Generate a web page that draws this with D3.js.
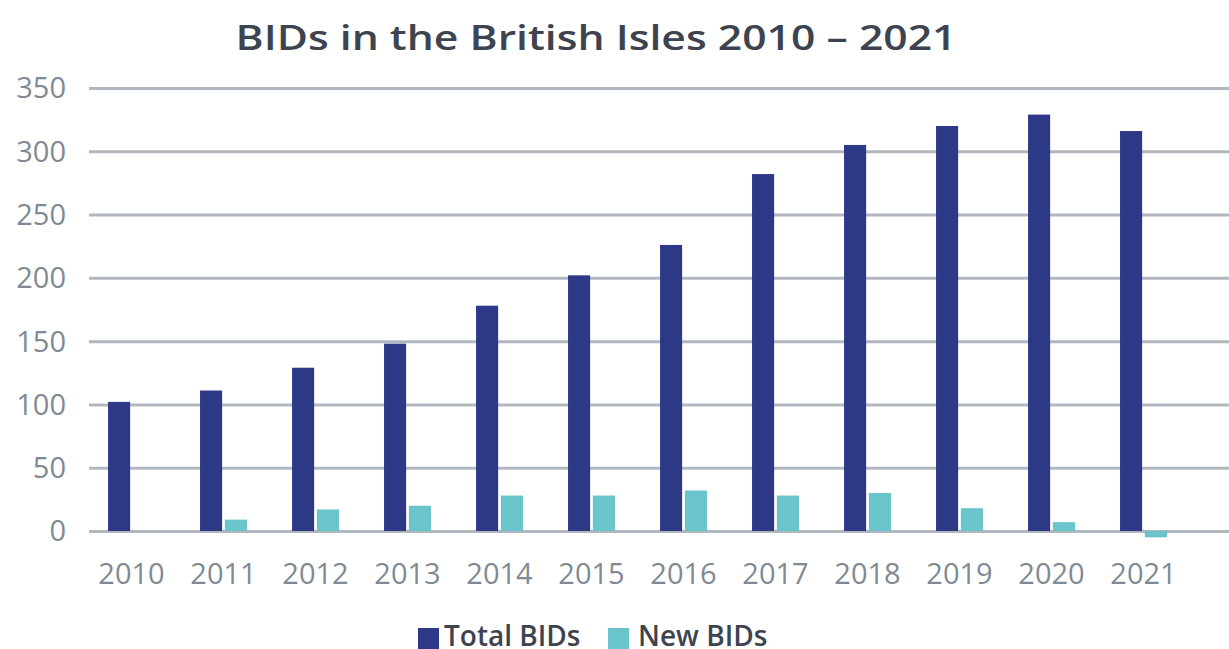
<!DOCTYPE html>
<html>
<head>
<meta charset="utf-8">
<script src="https://cdn.jsdelivr.net/npm/d3@7"></script>
<style>
  html, body { margin: 0; padding: 0; background: #ffffff; }
  svg { display: block; font-family: "Open Sans", "Noto Sans", sans-serif; }
</style>
</head>
<body>
<svg id="chart" width="1229" height="649"></svg>
<script>
// Business Improvement Districts per year
const years = ["2010", "2011", "2012", "2013", "2014", "2015", "2016", "2017", "2018", "2019", "2020", "2021"];
const totalBIDs = [102, 111, 129, 148, 178, 202, 226, 282, 305, 320, 329, 316];
const newBIDs = [0, 9, 17, 20, 28, 28, 32, 28, 30, 18, 7, -5];
const seriesNames = ["Total BIDs", "New BIDs"];
const seriesColors = ["#2d3987", "#69c4cb"];
const yTicks = [0, 50, 100, 150, 200, 250, 300, 350];
const title = "BIDs in the British Isles 2010 \u2013 2021";

const svg = d3.select("#chart");
const W = 1229;

const y = d3.scaleLinear().domain([0, 350]).range([531, 88]);
const x0 = d3.scaleBand().domain(years).range([85.5, 1189.5])
  .paddingInner(0.49).paddingOuter(0.245);
const x1 = d3.scaleBand().domain(seriesNames).range([0, x0.bandwidth()]).paddingInner(0.11);
const color = d3.scaleOrdinal().domain(seriesNames).range(seriesColors);

// Title
svg.append("text")
  .attr("x", 596).attr("y", 50)
  .attr("text-anchor", "middle")
  .attr("font-size", 35).attr("font-weight", 600)
  .attr("fill", "#3d4450")
  .attr("textLength", 721).attr("lengthAdjust", "spacingAndGlyphs")
  .text(title);

// Horizontal gridlines and value labels
const yAxis = d3.axisLeft(y).tickValues(yTicks).tickSize(-(W - 89)).tickPadding(23);
const gy = svg.append("g").attr("transform", "translate(89,0)").call(yAxis);
gy.select(".domain").remove();
gy.selectAll(".tick line").attr("stroke", "#b1b7bf").attr("stroke-width", 3);
gy.selectAll(".tick text")
  .attr("font-size", 29).attr("font-weight", 500).attr("fill", "#7f8a94")
  .attr("font-family", "'Open Sans', sans-serif")
  .attr("dy", "0.34em");

// Bars
const rows = years.map((yr, i) => ({ year: yr, values: [
  { key: seriesNames[0], value: totalBIDs[i] },
  { key: seriesNames[1], value: newBIDs[i] }
]}));

svg.append("g").selectAll("g")
  .data(rows).join("g")
  .attr("transform", d => `translate(${x0(d.year)},0)`)
  .selectAll("rect")
  .data(d => d.values.filter(v => v.value !== 0)).join("rect")
  .attr("x", d => x1(d.key))
  .attr("width", x1.bandwidth())
  .attr("y", d => y(Math.max(0, d.value)))
  .attr("height", d => Math.abs(y(d.value) - y(0)))
  .attr("fill", d => color(d.key));

// Year labels
const xAxis = d3.axisBottom(x0).tickSize(0).tickPadding(0);
const gx = svg.append("g").attr("transform", "translate(0,531)").call(xAxis);
gx.select(".domain").remove();
gx.selectAll(".tick text")
  .attr("y", 53).attr("dy", 0)
  .attr("font-size", 29).attr("font-weight", 500).attr("fill", "#7f8a94")
  .attr("font-family", "'Open Sans', sans-serif");

// Legend
const legendItems = [
  { name: seriesNames[0], sx: 418, tx: 444 },
  { name: seriesNames[1], sx: 608, tx: 638 }
];
const lg = svg.append("g");
lg.selectAll("rect").data(legendItems).join("rect")
  .attr("x", d => d.sx).attr("y", 628).attr("width", 21).attr("height", 21)
  .attr("fill", d => color(d.name));
lg.selectAll("text").data(legendItems).join("text")
  .attr("x", d => d.tx).attr("y", 646)
  .attr("font-size", 28).attr("font-weight", 600)
  .attr("fill", "#3d4450")
  .text(d => d.name);
</script>
</body>
</html>
